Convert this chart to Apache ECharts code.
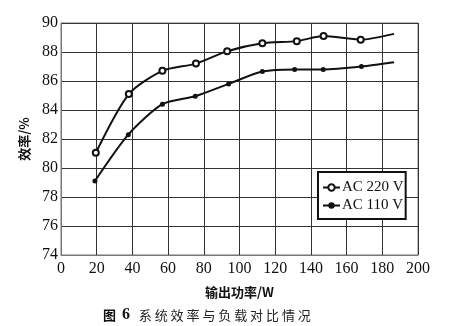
<!DOCTYPE html>
<html>
<head>
<meta charset="utf-8">
<script src="https://cdn.jsdelivr.net/npm/echarts@6/dist/echarts.min.js"></script>
<style>html,body{margin:0;padding:0;background:#fff;}#c{width:460px;height:326px;}</style>
</head>
<body>
<div id="c"></div>
<script>
const seriesNames = ['AC 220 V', 'AC 110 V'];
const power220 = [19.5, 38, 56.8, 75.6, 93.1, 112.8, 132.1, 147.1, 167.9, 186.6];
const eff220 = [81.05, 85.1, 86.7, 87.2, 88.05, 88.6, 88.75, 89.1, 88.85, 89.25];
const power110 = [19, 37.7, 56.8, 75.2, 93.9, 112.8, 130.9, 146.9, 168.3, 186.6];
const eff110 = [79.1, 82.3, 84.4, 84.95, 85.8, 86.65, 86.8, 86.8, 87.0, 87.3];
const xTicks = [0, 20, 40, 60, 80, 100, 120, 140, 160, 180, 200];
const yTicks = [74, 76, 78, 80, 82, 84, 86, 88, 90];

function pairs(xs, ys) {
  return xs.map((x, i) => {
    const item = { value: [x, ys[i]] };
    if (i === xs.length - 1) item.symbol = 'none';
    return item;
  });
}

const serif = '"Liberation Serif", "DejaVu Serif", serif';
const cjk = '"Noto Sans CJK SC", sans-serif';
const chart = echarts.init(document.getElementById('c'));
chart.setOption({
  animation: false,
  backgroundColor: '#fff',
  grid: { left: 61, right: 42, top: 23, bottom: 71, show: true, borderColor: '#777', borderWidth: 1 },
  xAxis: {
    type: 'value', min: xTicks[0], max: xTicks[xTicks.length - 1], interval: 20,
    name: '输出功率/W', nameLocation: 'middle', nameGap: 31,
    nameTextStyle: { fontFamily: cjk, fontSize: 13, color: '#111', fontWeight: 'bold' },
    axisLine: { show: true, lineStyle: { color: '#777' } },
    axisTick: { show: false },
    axisLabel: { fontFamily: serif, fontSize: 16, color: '#111', margin: 6 },
    splitLine: { show: true, lineStyle: { color: '#333', width: 1 } }
  },
  yAxis: {
    type: 'value', min: yTicks[0], max: yTicks[yTicks.length - 1], interval: 2,
    name: '效率/%', nameLocation: 'middle', nameGap: 30, nameRotate: 90,
    nameTextStyle: { fontFamily: cjk, fontSize: 13, color: '#111', fontWeight: 'bold' },
    axisLine: { show: true, lineStyle: { color: '#777' } },
    axisTick: { show: false },
    axisLabel: { fontFamily: serif, fontSize: 16, color: '#111', margin: 3 },
    splitLine: { show: true, lineStyle: { color: '#333', width: 1 } }
  },
  legend: {
    orient: 'vertical', left: 318, top: 172,
    padding: [8, 2, 6, 4], itemGap: 3, itemWidth: 17, itemHeight: 8,
    borderColor: '#111', borderWidth: 2, backgroundColor: '#fff',
    textStyle: { fontFamily: serif, fontSize: 15, color: '#111', padding: [0, 0, 0, -3] },
    data: seriesNames
  },
  series: [
    {
      name: seriesNames[0], type: 'line', smooth: 0.25,
      data: pairs(power220, eff220),
      symbol: 'emptyCircle', symbolSize: 6,
      color: '#111',
      lineStyle: { color: '#111', width: 2, type: 'solid' },
      itemStyle: { color: '#111', borderWidth: 1.6 },
      z: 3
    },
    {
      name: seriesNames[1], type: 'line', smooth: 0.25,
      data: pairs(power110, eff110),
      symbol: 'circle', symbolSize: 5,
      color: '#111',
      lineStyle: { color: '#111', width: 2, type: 'solid' },
      itemStyle: { color: '#111' },
      z: 3
    }
  ],
  graphic: [
    {
      type: 'text', left: 103, top: 307,
      style: {
        text: '{a|图}{b|6}{c|   系 统 效 率 与 负 载 对 比 情 况}',
        rich: {
          a: { fontFamily: cjk, fontSize: 13, fill: '#111', fontWeight: 'bold' },
          b: { fontFamily: serif, fontSize: 16, fill: '#111', fontWeight: 'bold', padding: [0, 0, 0, 6] },
          c: { fontFamily: cjk, fontSize: 13, fill: '#222' }
        }
      }
    }
  ]
});
</script>
</body>
</html>
